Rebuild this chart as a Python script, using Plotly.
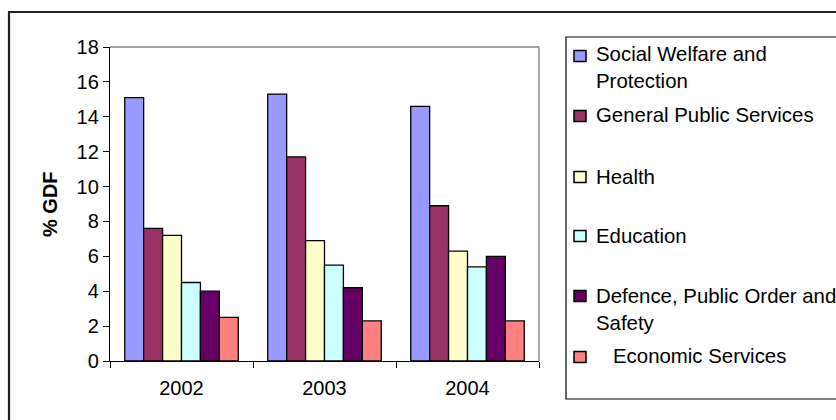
import plotly.graph_objects as go

# Government expenditure by function, % of GDP
years = ["2002", "2003", "2004"]
series_names = [
    "Social Welfare and<br>Protection",
    "General Public Services",
    "Health",
    "Education",
    "Defence, Public Order and<br>Safety",
    "&nbsp;&nbsp;&nbsp;Economic Services",
]
social_welfare = [15.1, 15.3, 14.6]
general_public = [7.6, 11.7, 8.9]
health = [7.2, 6.9, 6.3]
education = [4.5, 5.5, 5.4]
defence = [4.0, 4.2, 6.0]
economic = [2.5, 2.3, 2.3]
series_values = [social_welfare, general_public, health, education, defence, economic]
colors = ["#9999FF", "#993366", "#FFFFCC", "#CCFFFF", "#660066", "#FF8080"]

FONT = "Liberation Sans, Arial, sans-serif"
W, H = 836, 420
L, R, T, B = 110, 539, 47, 361  # plot area in pixels


def px(x):
    return (x - L) / (R - L)


def py(y):
    return (B - y) / (B - T)


fig = go.Figure()
for name, vals, col in zip(series_names, series_values, colors):
    fig.add_trace(go.Bar(
        x=years, y=vals, name=name,
        marker=dict(color=col, line=dict(color="black", width=1.3)),
        showlegend=False,
    ))

shapes = [
    # outer chart frame
    dict(type="rect", xref="paper", yref="paper",
         x0=px(9), x1=px(900), y0=py(12), y1=py(460),
         line=dict(color="#222222", width=2.2), layer="below"),
    # plot area border (top and right)
    dict(type="line", xref="paper", yref="paper", x0=0, x1=1, y0=1, y1=1,
         line=dict(color="#808080", width=1.3)),
    dict(type="line", xref="paper", yref="paper", x0=1, x1=1, y0=0, y1=1,
         line=dict(color="#808080", width=1.3)),
    # legend box
    dict(type="rect", xref="paper", yref="paper",
         x0=px(566), x1=px(900), y0=py(37), y1=py(399),
         line=dict(color="black", width=1.2)),
]

annotations = [
    dict(text="<b>% GDF</b>", xref="paper", yref="paper", x=px(50), y=py(204),
         textangle=-90, showarrow=False, xanchor="center", yanchor="middle",
         font=dict(family=FONT, size=20, color="black")),
]

# legend entries: marker centre y and first-line text centre y (pixels)
marker_y = [56, 116, 177, 236, 296, 357]
text_y = [54, 115, 177, 236, 296, 356]
for name, col, my, ty in zip(series_names, colors, marker_y, text_y):
    shapes.append(dict(type="rect", xref="paper", yref="paper",
                       x0=px(574), x1=px(586), y0=py(my - 5.5), y1=py(my + 5.5),
                       fillcolor=col, line=dict(color="black", width=1.5)))
    annotations.append(dict(text=name, xref="paper", yref="paper",
                            x=px(594), y=py(ty - 13), xanchor="left", yanchor="top",
                            align="left", showarrow=False,
                            font=dict(family=FONT, size=20.4, color="black")))

fig.update_layout(
    width=W, height=H,
    margin=dict(l=L, r=W - R, t=T, b=H - B, pad=0),
    paper_bgcolor="white", plot_bgcolor="white",
    barmode="group", bargap=0.206, bargroupgap=0,
    shapes=shapes, annotations=annotations,
    font=dict(family=FONT, size=20, color="black"),
    xaxis=dict(
        type="category", showline=True, linecolor="black", linewidth=1.3,
        ticks="outside", tickson="boundaries", ticklen=6, tickcolor="black",
        tickwidth=1.3, showgrid=False, tickfont=dict(family=FONT, size=20),
        ticklabelstandoff=9,
    ),
    yaxis=dict(
        range=[0, 18], dtick=2, showline=True, linecolor="black", linewidth=1.3,
        ticks="outside", ticklen=6, tickcolor="black", tickwidth=1.3,
        showgrid=False, zeroline=False, tickfont=dict(family=FONT, size=20),
    ),
)

fig.write_html("out.html")
